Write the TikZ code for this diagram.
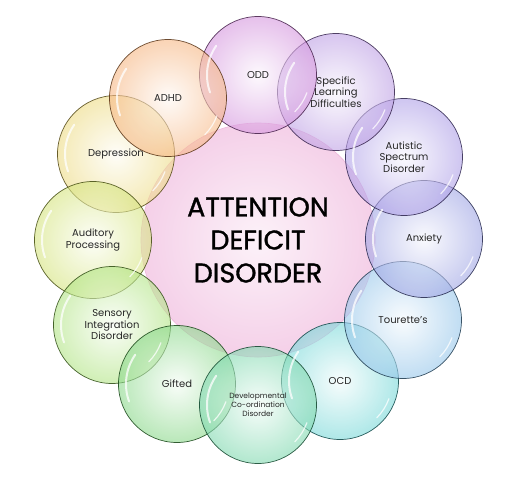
\documentclass[tikz,border=0pt]{standalone}
\usepackage{fontspec}
\setmainfont{Poppins}
\usetikzlibrary{positioning}
\definecolor{hubC}{RGB}{225,120,190}
\definecolor{oddC}{RGB}{185,80,200}
\definecolor{sldC}{RGB}{145,95,210}
\definecolor{asdC}{RGB}{120,95,215}
\definecolor{anxC}{RGB}{95,105,210}
\definecolor{touC}{RGB}{80,160,220}
\definecolor{ocdC}{RGB}{30,190,190}
\definecolor{devC}{RGB}{40,190,120}
\definecolor{gifC}{RGB}{60,190,60}
\definecolor{senC}{RGB}{125,210,50}
\definecolor{audC}{RGB}{185,210,40}
\definecolor{depC}{RGB}{225,195,50}
\definecolor{adhC}{RGB}{240,135,50}

\begin{document}
\begin{tikzpicture}[x=1pt, y=-1pt,
  bubble/.style={circle, minimum size=117pt, inner sep=0pt, shade,
    inner color=#1!6, outer color=#1!60, draw=#1!35!black, line width=0.7pt,
    fill opacity=0.6, draw opacity=0.85, text opacity=1, text=black!85,
    font=\fontsize{10}{11.5}\selectfont, align=center},
  hub/.style={circle, minimum size=234pt, inner sep=0pt, shade,
    inner color=hubC!10, outer color=hubC!35, draw=hubC!55, line width=0.6pt,
    font=\fontsize{27}{33}\selectfont\addfontfeature{FakeBold=1.2}, align=center},
  gloss/.style={white, line width=2pt, opacity=0.75, line cap=round}]
  \useasboundingbox (0,0) rectangle (518,482);

  \node[hub] (add) at (258,240) {ATTENTION\\DEFICIT\\DISORDER};

  \node[bubble=depC] (dep) at (116,154) {Depression};
  \node[bubble=audC] (aud) at (93,240)  {Auditory\\Processing};
  \node[bubble=senC] (sen) at (112,325) {Sensory\\Integration\\Disorder};
  \node[bubble=gifC] (gif) at (177,384) {Gifted};
  \node[bubble=ocdC] (ocd) at (340,381) {OCD};
  \node[bubble=touC] (tou) at (403,320) {Tourette's};
  \node[bubble=anxC] (anx) at (424,239) {Anxiety};
  \node[bubble=asdC] (asd) at (404,157) {Autistic\\Spectrum\\Disorder};
  \node[bubble=sldC] (sld) at (336,92)  {Specific\\Learning\\Difficulties};
  \node[bubble=oddC] (odd) at (258,75)  {ODD};
  \node[bubble=adhC] (adh) at (168,98)  {ADHD};
  \node[bubble=devC, font=\fontsize{7.5}{9}\selectfont] (dev) at (258,405) {Developmental\\Co-ordination\\Disorder};

  % glossy streaks
  \foreach \n in {dep,aud,sen,gif,dev,ocd,tou,anx,asd,sld,odd,adh}{
    \draw[gloss] ([shift={(200:51pt)}]\n.center) arc[start angle=200, end angle=145, radius=51pt];
    \draw[gloss, line width=1.2pt] ([shift={(-45:52pt)}]\n.center) arc[start angle=-45, end angle=-20, radius=52pt];
  }
\end{tikzpicture}
\end{document}
